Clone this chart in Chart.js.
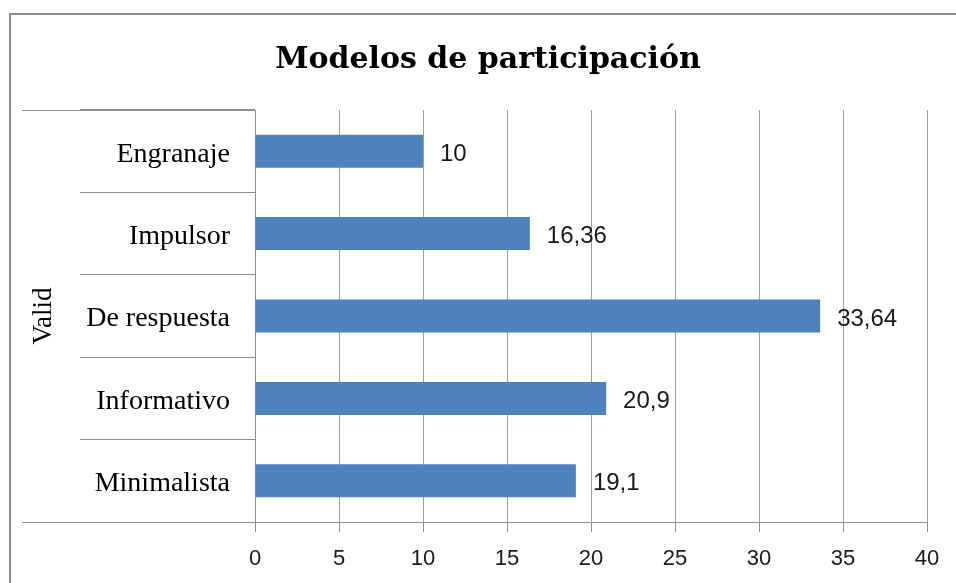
<!DOCTYPE html>
<html lang="es">
<head>
    <meta charset="UTF-8">
    <title>Modelos de participación</title>
    <script src="https://cdn.jsdelivr.net/npm/chart.js"></script>
    <style>
        html, body {
            margin: 0;
            padding: 0;
            background: #ffffff;
            overflow: hidden;
        }
        .wrap {
            width: 956px;
            height: 583px;
            overflow: hidden;
        }
        .box {
            width: 976px;
            height: 583px;
        }
    </style>
</head>
<body>
    <div class="wrap">
        <div class="box"><canvas id="chart"></canvas></div>
    </div>

    <script>
        // Data
        const categories = ['Engranaje', 'Impulsor', 'De respuesta', 'Informativo', 'Minimalista'];
        const percentages = [10, 16.36, 33.64, 20.9, 19.1];
        const xTicks = [0, 5, 10, 15, 20, 25, 30, 35, 40];

        const serif = '"Liberation Serif", "DejaVu Serif", serif';
        const titleSerif = '"DejaVu Serif", serif';
        const sans = '"Liberation Sans", Arial, sans-serif';

        // frame round the whole chart + the long lines left of the plot
        const frame = {
            id: 'frame',
            beforeDraw(chart) {
                const ctx = chart.ctx;
                const area = chart.chartArea;
                ctx.save();
                ctx.strokeStyle = '#8c8c8c';
                ctx.lineWidth = 2;
                ctx.beginPath();
                ctx.moveTo(10, 600);
                ctx.lineTo(10, 14);
                ctx.lineTo(990, 14);
                ctx.stroke();

                ctx.strokeStyle = '#8e8e8e';
                ctx.lineWidth = 1;
                ctx.beginPath();
                ctx.moveTo(22, Math.round(area.top) + 0.5);
                ctx.lineTo(area.left, Math.round(area.top) + 0.5);
                ctx.moveTo(22, Math.round(area.bottom) + 0.5);
                ctx.lineTo(area.left, Math.round(area.bottom) + 0.5);
                ctx.stroke();
                ctx.restore();
            }
        };

        // value labels to the right of each bar
        const valueLabels = {
            id: 'valueLabels',
            afterDatasetsDraw(chart) {
                const ctx = chart.ctx;
                const meta = chart.getDatasetMeta(0);
                ctx.save();
                ctx.font = '24px ' + sans;
                ctx.fillStyle = '#1a1a1a';
                ctx.textAlign = 'left';
                ctx.textBaseline = 'middle';
                meta.data.forEach((bar, i) => {
                    const txt = String(percentages[i]).replace('.', ',');
                    ctx.fillText(txt, bar.x + 17, bar.y + 3);
                });
                ctx.restore();
            }
        };

        new Chart(document.getElementById('chart'), {
            type: 'bar',
            data: {
                labels: categories,
                datasets: [{
                    data: percentages,
                    backgroundColor: '#4f81bd',
                    borderWidth: 0,
                    barPercentage: 0.4,
                    categoryPercentage: 1
                }]
            },
            options: {
                indexAxis: 'y',
                responsive: true,
                maintainAspectRatio: false,
                animation: false,
                layout: {
                    padding: { left: 10, right: 10, top: 0, bottom: 0 }
                },
                plugins: {
                    legend: { display: false },
                    tooltip: { enabled: false },
                    title: {
                        display: true,
                        text: 'Modelos de participación',
                        color: '#000000',
                        font: { family: titleSerif, size: 30, weight: 'bold', lineHeight: 1.2 },
                        padding: { top: 42, bottom: 32 }
                    }
                },
                scales: {
                    x: {
                        min: 0,
                        max: 40,
                        afterBuildTicks: s => { s.ticks = xTicks.map(v => ({ value: v })); },
                        afterFit: s => { s.height = 61; },
                        grid: {
                            color: '#a0a0a0',
                            lineWidth: 1,
                            tickLength: 10,
                            tickColor: '#8e8e8e'
                        },
                        border: { display: true, color: '#8e8e8e', width: 1 },
                        ticks: {
                            color: '#1a1a1a',
                            padding: 14,
                            font: { family: sans, size: 22 }
                        }
                    },
                    y: {
                        afterFit: s => { s.width = 245; },
                        grid: {
                            offset: true,
                            drawOnChartArea: false,
                            drawTicks: true,
                            tickLength: 175,
                            color: '#8e8e8e',
                            lineWidth: 1
                        },
                        border: { display: true, color: '#8e8e8e', width: 1 },
                        ticks: {
                            color: '#000000',
                            padding: -150,
                            labelOffset: 3,
                            font: { family: serif, size: 28 }
                        },
                        title: {
                            display: true,
                            text: 'Valid',
                            color: '#000000',
                            font: { family: serif, size: 27 },
                            padding: { top: 18, bottom: 0 }
                        }
                    },
                    // empty strip on the right, keeps the plot at 927px
                    // while the title stays centred on the whole frame
                    yRight: {
                        type: 'category',
                        position: 'right',
                        afterFit: s => { s.width = 39; },
                        grid: { display: false },
                        border: { display: false },
                        ticks: { display: false }
                    }
                }
            },
            plugins: [frame, valueLabels]
        });
    </script>
</body>
</html>
